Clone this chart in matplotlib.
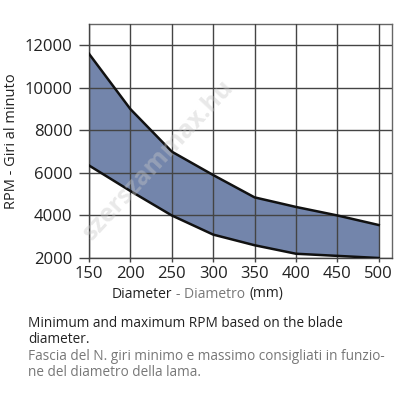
import matplotlib
matplotlib.use("Agg")
import matplotlib.pyplot as plt
from matplotlib.offsetbox import TextArea, HPacker, AnchoredOffsetbox

diameters = [150, 200, 250, 300, 350, 400, 450, 500]
rpm_max = [11600, 9000, 7000, 5900, 4850, 4400, 4000, 3550]
rpm_min = [6350, 5150, 4000, 3100, 2600, 2200, 2100, 2000]
x_ticks = [150, 200, 250, 300, 350, 400, 450, 500]
y_ticks = [2000, 4000, 6000, 8000, 10000, 12000]

plt.rcParams['font.family'] = ['Open Sans', 'DejaVu Sans']
fig = plt.figure(figsize=(4, 4), dpi=100)
ax = fig.add_axes([0.2225, 0.355, 0.7575, 0.585])

ax.fill_between(diameters, rpm_min, rpm_max, color='#7385ab', zorder=2, linewidth=0)
ax.plot(diameters, rpm_max, color='#111111', lw=1.8, zorder=3)
ax.plot(diameters, rpm_min, color='#111111', lw=1.8, zorder=3)

ax.set_xlim(150, 516)
ax.set_ylim(2000, 13000)
ax.set_xticks(x_ticks)
ax.set_yticks(y_ticks)
ax.grid(True, color='#444444', lw=1.0, zorder=1)
ax.set_axisbelow(False)
for s in ax.spines.values():
    s.set_color('#666666')
    s.set_linewidth(1.0)
ax.spines['left'].set_color('#444444')
ax.spines['bottom'].set_color('#444444')
ax.tick_params(axis='y', length=7, width=1.0, color='#444444', pad=5, labelsize=12, labelcolor='#222222')
ax.tick_params(axis='x', length=3, width=1.0, color='#444444', pad=3, labelsize=12, labelcolor='#222222')

ax.set_ylabel('RPM - Giri al minuto', fontsize=10.5, color='#222222', labelpad=4)

# x label with two colours
parts = [TextArea('Diameter', textprops=dict(fontsize=10, color='#222222')),
         TextArea('- Diametro', textprops=dict(fontsize=10, color='#777777')),
         TextArea('(mm)', textprops=dict(fontsize=10, color='#222222'))]
box = HPacker(children=parts, align='baseline', pad=0, sep=3)
anch = AnchoredOffsetbox(loc='center', child=box, pad=0, frameon=False,
                         bbox_to_anchor=(0.494, 0.265), bbox_transform=fig.transFigure,
                         borderpad=0)
fig.add_artist(anch)

# watermark
ax.text(0.23, 0.42, 'szerszammax.hu', transform=ax.transAxes, rotation=47,
        fontsize=18, fontweight='bold', color='#c8c8c8', alpha=0.4,
        ha='center', va='center', zorder=4)

cap = dict(fontsize=9.8, va='center')
fig.text(0.07, 0.192, 'Minimum and maximum RPM based on the blade', color='#222222', **cap)
fig.text(0.07, 0.152, 'diameter.', color='#222222', **cap)
fig.text(0.07, 0.110, 'Fascia del N. giri minimo e massimo consigliati in funzio-', color='#777777', **cap)
fig.text(0.07, 0.068, 'ne del diametro della lama.', color='#777777', **cap)

fig.savefig('out.png', dpi=100)
